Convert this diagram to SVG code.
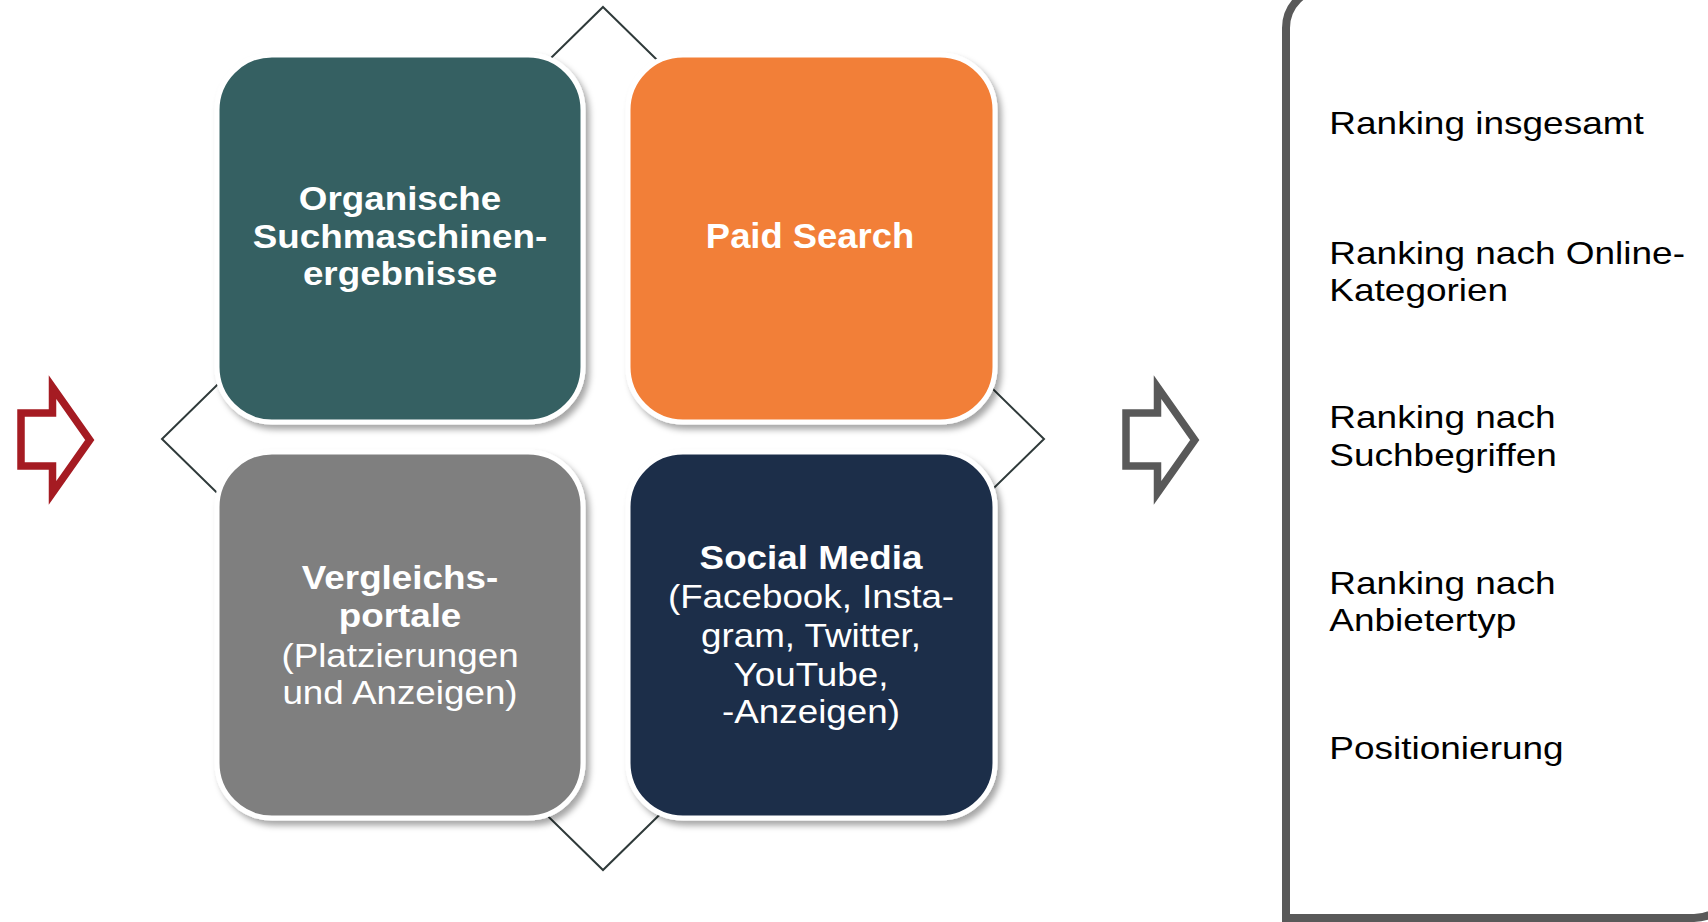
<svg xmlns="http://www.w3.org/2000/svg" width="1708" height="922" viewBox="0 0 1708 922">
  <defs>
    <filter id="shadow" x="-10%" y="-10%" width="125%" height="125%">
      <feDropShadow dx="4" dy="5" stdDeviation="3" flood-color="#000000" flood-opacity="0.35"/>
    </filter>
    <style>
      .box { stroke: #ffffff; stroke-width: 5; filter: url(#shadow); }
      .lbl { font-family: "Liberation Sans", Arial, sans-serif; fill: #ffffff; text-anchor: middle; font-size: 33px; }
      .b { font-weight: bold; }
      .side { font-family: "Liberation Sans", Arial, sans-serif; fill: #000000; font-size: 32px; }
      .diamond { fill: none; stroke: #2f3a3a; stroke-width: 2; }
      .arrow { fill: none; stroke-width: 7.5; stroke-linejoin: miter; stroke-miterlimit: 10; }
    </style>
  </defs>
  <rect width="1708" height="922" fill="#ffffff"/>

  <g id="connectors">
    <polygon class="diamond" points="603,7 1044,439 603,870 162,439"/>
  </g>

  <g id="arrow-in">
    <path class="arrow" stroke="#a51b22" d="M21,413 H52.5 V387 L89.8,440 L52.5,493 V466 H21 Z"/>
  </g>
  <g id="arrow-out">
    <path class="arrow" stroke="#595959" d="M1126,413 H1157.5 V387 L1194.8,440 L1157.5,493 V466 H1126 Z"/>
  </g>

  <g id="node-organisch">
    <rect class="box" x="217" y="55" width="366" height="367" rx="55" ry="55" fill="#356062"/>
    <g transform="translate(400,0) scale(1.115,1)">
      <text class="lbl b" x="0" y="210">Organische</text>
      <text class="lbl b" x="0" y="248">Suchmaschinen-</text>
      <text class="lbl b" x="0" y="285.5">ergebnisse</text>
    </g>
  </g>

  <g id="node-paid">
    <rect class="box" x="628" y="55" width="367" height="367" rx="55" ry="55" fill="#f27f37"/>
    <g transform="translate(810,0) scale(1.025,1)">
      <text class="lbl b" x="0" y="247.7" style="font-size:35.5px">Paid Search</text>
    </g>
  </g>

  <g id="node-vergleich">
    <rect class="box" x="217" y="452" width="366" height="366" rx="55" ry="55" fill="#7f7f7f"/>
    <g transform="translate(400,0) scale(1.115,1)">
      <text class="lbl b" x="0" y="589.3">Vergleichs-</text>
      <text class="lbl b" x="0" y="627">portale</text>
      <text class="lbl" x="0" y="666.7">(Platzierungen</text>
      <text class="lbl" x="0" y="704">und Anzeigen)</text>
    </g>
  </g>

  <g id="node-social">
    <rect class="box" x="628" y="452" width="367" height="366" rx="55" ry="55" fill="#1c2e4a"/>
    <g transform="translate(811,0) scale(1.115,1)">
      <text class="lbl b" x="0" y="569.3">Social Media</text>
      <text class="lbl" x="0" y="608">(Facebook, Insta-</text>
      <text class="lbl" x="0" y="646.7">gram, Twitter,</text>
      <text class="lbl" x="0" y="685.7">YouTube,</text>
      <text class="lbl" x="0" y="723">-Anzeigen)</text>
    </g>
  </g>

  <g id="node-ranking-panel">
    <path d="M1286,918 V28 A40,40 0 0 1 1326,-12 H1734 V878 A40,40 0 0 1 1694,918 Z" fill="none" stroke="#595959" stroke-width="8" stroke-linejoin="miter"/>
    <g transform="translate(1329.3,0) scale(1.156,1)">
      <text class="side" x="0" y="134.5">Ranking insgesamt</text>
      <text class="side" x="0" y="264">Ranking nach Online-</text>
      <text class="side" x="0" y="301">Kategorien</text>
      <text class="side" x="0" y="428.5">Ranking nach</text>
      <text class="side" x="0" y="466">Suchbegriffen</text>
      <text class="side" x="0" y="594">Ranking nach</text>
      <text class="side" x="0" y="631.5">Anbietertyp</text>
      <text class="side" x="0" y="759.5">Positionierung</text>
    </g>
  </g>
</svg>
